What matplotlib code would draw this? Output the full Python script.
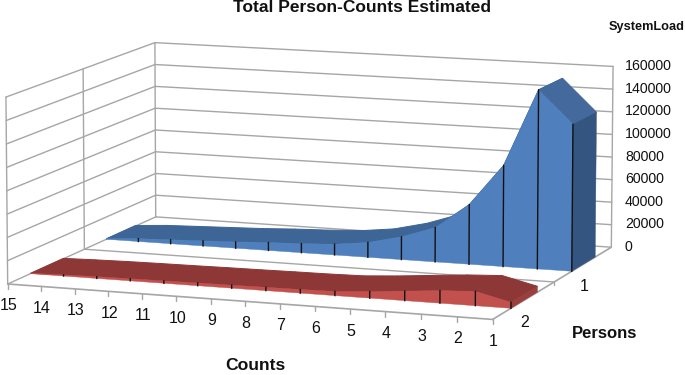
import numpy as np
import matplotlib
matplotlib.use("Agg")
import matplotlib.pyplot as plt
from matplotlib.patches import Polygon

# values per count, listed from 15 down to 1
counts = [15, 14, 13, 12, 11, 10, 9, 8, 7, 6, 5, 4, 3, 2, 1]
persons = [1, 2]
load_one = [500, 2500, 3500, 4500, 5500, 7000, 8000, 9500, 13000, 20000, 30000, 52000, 88000, 155000, 127000]
load_two = [300, 1000, 1500, 1800, 2000, 2300, 2500, 2800, 3000, 3500, 5500, 8000, 10500, 12000, 5000]
load_ticks = [0, 20000, 40000, 60000, 80000, 100000, 120000, 140000, 160000]
ZMAX = 160000.0

plt.rcParams["font.family"] = ["Liberation Sans", "DejaVu Sans"]

# camera fitted from the box corners: (count pos, depth, height) -> pixel
box3d = [(0, 0, 0), (14, 0, 0), (14, 2, 0), (0, 2, 0), (0, 2, 1), (14, 2, 1), (0, 0, 1), (0, 1, 0), (0, 1, 1)]
box2d = [(8, 284), (493, 319), (611, 248), (156.7, 216.7), (155, 42), (613, 66), (6, 97), (83, 249), (83, 70)]

rows, rhs = [], []
for (x, y, z), (px, py) in zip(box3d, box2d):
    rows.append([x, y, z, 1, 0, 0, 0, 0, -px * x, -px * y, -px * z])
    rhs.append(px)
    rows.append([0, 0, 0, 0, x, y, z, 1, -py * x, -py * y, -py * z])
    rhs.append(py)
cam = np.linalg.lstsq(np.array(rows, float), np.array(rhs, float), rcond=None)[0]
cam = np.append(cam, 1.0).reshape(3, 4)


def project(x, y, load):
    p = cam @ np.array([x, y, load / ZMAX, 1.0])
    return p[0] / p[2], p[1] / p[2]


def draw_series(ax, values, front, back, top_color, last_top, face_color, side_color):
    xs = np.arange(len(values))
    # top ribbon, drawn first so the front face covers the hidden parts
    for i in xs[:-1]:
        pts = [project(i, back, values[i]), project(i + 1, back, values[i + 1]),
               project(i + 1, front, values[i + 1]), project(i, front, values[i])]
        col = last_top if i == xs[-2] else top_color
        ax.add_patch(Polygon(pts, closed=True, fc=col, ec=col, lw=0.7, zorder=3))
    face = [project(i, front, 0) for i in xs] + [project(i, front, values[i]) for i in xs[::-1]]
    ax.add_patch(Polygon(face, closed=True, fc=face_color, ec=face_color, lw=0.3, zorder=4))
    side = [project(xs[-1], front, 0), project(xs[-1], back, 0),
            project(xs[-1], back, values[-1]), project(xs[-1], front, values[-1])]
    ax.add_patch(Polygon(side, closed=True, fc=side_color, ec=side_color, lw=0.3, zorder=4))
    for i in xs[1:]:
        a = project(i, front, 0)
        b = project(i, front, values[i])
        ax.plot([a[0], b[0]], [a[1], b[1]], color="#111111", lw=1.0, zorder=5)


def seg(ax, p, q, lw=1.0):
    ax.plot([p[0], q[0]], [p[1], q[1]], color="#a6a6a6", lw=lw, zorder=1, solid_capstyle="round")


fig = plt.figure(figsize=(6.85, 3.75), dpi=100)
ax = fig.add_axes([0, 0, 1, 1])
ax.set_xlim(0, 685)
ax.set_ylim(375, 0)
ax.axis("off")

# walls
for t in load_ticks:
    seg(ax, project(0, 2, t), project(14, 2, t))
    seg(ax, project(0, 0, t), project(0, 2, t))
for d in [0, 1, 2]:
    seg(ax, project(0, d, 0), project(0, d, ZMAX))
seg(ax, project(14, 2, 0), project(14, 2, ZMAX))

# floor
seg(ax, project(0, 1, 0), project(14, 1, 0))
seg(ax, project(0, 0, 0), project(14, 0, 0), lw=1.2)
seg(ax, project(14, 0, 0), project(14, 2, 0), lw=1.2)

draw_series(ax, load_one, 1.30, 1.71, "#3d6596", "#44699c", "#4f80bd", "#34557f")
draw_series(ax, load_two, 0.29, 0.72, "#8d3736", "#8d3736", "#c2504d", "#9a3f3d")

# count axis
for i, c in enumerate(counts):
    px, py = project(i, 0, 0)
    seg(ax, (px, py), (px, py + 5))
    ax.text(px + 1, py + 22, str(c), fontsize=11.5, ha="center", va="center", color="#111111")

# persons axis
seg(ax, project(14, 1, 0), (project(14, 1, 0)[0], project(14, 1, 0)[1] + 3))
for p, d in zip(persons, [1.5, 0.5]):
    px, py = project(14, d, 0)
    ax.text(px + 1, py + 22, str(p), fontsize=11.5, ha="center", va="center", color="#111111")

# load axis
for t in load_ticks:
    px, py = project(14, 2, t)
    ax.text(625, py - 0.5, str(t), fontsize=10.2, ha="left", va="center", color="#111111")

ax.text(362, 8, "Total Person-Counts Estimated", fontsize=12.5, fontweight="bold", ha="center", va="center", color="#111111")
ax.text(647, 27, "SystemLoad", fontsize=9.2, fontweight="bold", ha="center", va="center", color="#111111")
ax.text(255, 365, "Counts", fontsize=12.6, fontweight="bold", ha="center", va="center", color="#111111")
ax.text(605, 333, "Persons", fontsize=12, fontweight="bold", ha="center", va="center", color="#111111")

fig.savefig("out.png", dpi=100)
